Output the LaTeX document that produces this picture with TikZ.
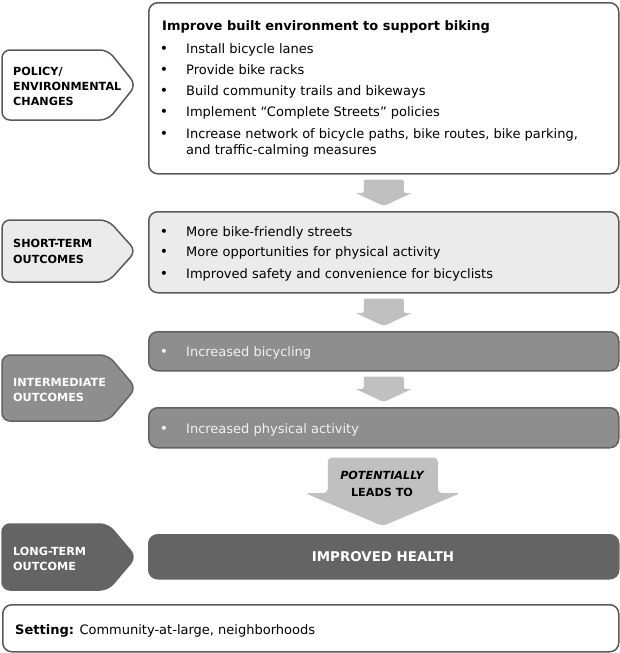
\documentclass[tikz,border=0pt]{standalone}
\usepackage{fontspec}
\setmainfont{DejaVu Sans}
\usetikzlibrary{calc}
\definecolor{edge}{HTML}{5A5A5A}
\definecolor{lightfill}{HTML}{EBEBEB}
\definecolor{midfill}{HTML}{8E8E8E}
\definecolor{midedge}{HTML}{626262}
\definecolor{darkfill}{HTML}{646464}
\definecolor{arrowc}{HTML}{C0C0C0}
\definecolor{paletext}{HTML}{F2F2F2}
\newcommand\flowarrow[2]{%
  \fill[arrowc, rounded corners=2pt]
   ($(#1.south)+(-20,5)$) -- ($(#1.south)+(20,5)$) -- ($(#2.north)+(20,-18)$)
   -- ($(#2.north)+(28,-18)$) -- ($(#2.north)+(0,-5)$) -- ($(#2.north)+(-28,-18)$)
   -- ($(#2.north)+(-20,-18)$) -- cycle;}
\begin{document}
\begin{tikzpicture}[x=1pt,y=-1pt,
  box/.style={draw=edge, line width=1.5pt, rounded corners=9pt, anchor=north west,
    inner sep=0pt, minimum width=470pt},
  lbl/.style={draw=edge, line width=1.5pt, rounded corners=8pt},
  txt/.style={anchor=base west, inner sep=0pt, font=\fontsize{13}{15}\selectfont},
  bul/.style={anchor=base, inner sep=0pt, font=\fontsize{14}{15}\selectfont},
  ttl/.style={anchor=base west, inner sep=0pt, font=\bfseries\fontsize{13}{15}\selectfont},
  lab/.style={anchor=base west, inner sep=0pt, font=\bfseries\fontsize{11.2}{13}\selectfont},
]
\useasboundingbox (0,0) rectangle (620,653);

% ---------- main boxes ----------
\node[box, fill=white, minimum height=171pt] (b1) at (148,2) {};
\node[box, fill=lightfill, minimum height=81pt] (b2) at (148,211) {};
\node[box, fill=midfill, draw=midedge, minimum height=39pt] (b3) at (148,331) {};
\node[box, fill=midfill, draw=midedge, minimum height=40pt] (b4) at (148,407) {};
\node[box, fill=darkfill, draw=darkfill, minimum height=44pt] (b5) at (148,534) {};
\node[box, fill=white, minimum width=616pt, minimum height=47pt] (set) at (2,604) {};

% ---------- stage labels ----------
\filldraw[lbl, fill=white] (2,50) -- (108,50) -- (136,85) -- (108,120) -- (2,120) -- cycle;
\filldraw[lbl, fill=lightfill] (2,220) -- (108,220) -- (136,251) -- (108,282) -- (2,282) -- cycle;
\filldraw[lbl, fill=midfill, draw=midedge] (2,355) -- (108,355) -- (136,388) -- (108,421) -- (2,421) -- cycle;
\filldraw[lbl, fill=darkfill, draw=darkfill] (2,524) -- (108,524) -- (136,557) -- (108,590) -- (2,590) -- cycle;

\node[lab] (l1a) at (13,75) {POLICY/};
\node[lab] (l1b) at (13,90) {ENVIRONMENTAL};
\node[lab] (l1c) at (13,105) {CHANGES};
\node[lab] (l2a) at (13,247) {SHORT-TERM};
\node[lab] (l2b) at (13,263) {OUTCOMES};
\node[lab, text=white] (l3a) at (13,386) {INTERMEDIATE};
\node[lab, text=white] (l3b) at (13,401) {OUTCOMES};
\node[lab, text=white] (l4a) at (13,555) {LONG-TERM};
\node[lab, text=white] (l4b) at (13,570) {OUTCOME};

% ---------- arrows ----------
\flowarrow{b1}{b2}
\flowarrow{b2}{b3}
\flowarrow{b3}{b4}
\fill[arrowc, rounded corners=4pt]
  ($(b4.south)+(-56,9)$) -- ($(b4.south)+(54,9)$) -- ($(b5.north)+(54,-41)$)
  -- ($(b5.north)+(77,-41)$) -- ($(b5.north)+(-1,-8)$) -- ($(b5.north)+(-79,-41)$)
  -- ($(b5.north)+(-56,-41)$) -- cycle;
\node[anchor=base, inner sep=0pt, font=\bfseries\itshape\fontsize{11.2}{13}\selectfont] (pot) at (382,479) {POTENTIALLY};
\node[anchor=base, inner sep=0pt, font=\bfseries\fontsize{11.2}{13}\selectfont] (lead) at (382,496) {LEADS TO};

% ---------- box 1 text ----------
\node[ttl] (t1) at (162,30) {Improve built environment to support biking};
\node[bul] (d11) at (164,53) {•};  \node[txt] (i11) at (186,53) {Install bicycle lanes};
\node[bul] (d12) at (164,74) {•};  \node[txt] (i12) at (186,74) {Provide bike racks};
\node[bul] (d13) at (164,95) {•};  \node[txt] (i13) at (186,95) {Build community trails and bikeways};
\node[bul] (d14) at (164,116) {•}; \node[txt] (i14) at (186,116) {Implement “Complete Streets” policies};
\node[bul] (d15) at (164,138) {•}; \node[txt] (i15) at (186,138) {Increase network of bicycle paths, bike routes, bike parking,};
\node[txt] (i15b) at (186,154) {and traffic-calming measures};

% ---------- box 2 text ----------
\node[bul] (d21) at (164,236) {•}; \node[txt] (i21) at (186,236) {More bike-friendly streets};
\node[bul] (d22) at (164,256) {•}; \node[txt] (i22) at (186,256) {More opportunities for physical activity};
\node[bul] (d23) at (164,278) {•}; \node[txt] (i23) at (186,278) {Improved safety and convenience for bicyclists};

% ---------- box 3/4/5 text ----------
\node[bul, text=paletext] (d31) at (164,356) {•}; \node[txt, text=paletext] (i31) at (186,356) {Increased bicycling};
\node[bul, text=paletext] (d41) at (164,433) {•}; \node[txt, text=paletext] (i41) at (186,433) {Increased physical activity};
\node[anchor=base, inner sep=0pt, text=white, font=\bfseries\fontsize{13.4}{15}\selectfont] (h5) at (383,561) {IMPROVED HEALTH};

% ---------- setting ----------
\node[txt] (s1) at (15,634) {\textbf{Setting:} Community-at-large, neighborhoods};
\end{tikzpicture}
\end{document}
